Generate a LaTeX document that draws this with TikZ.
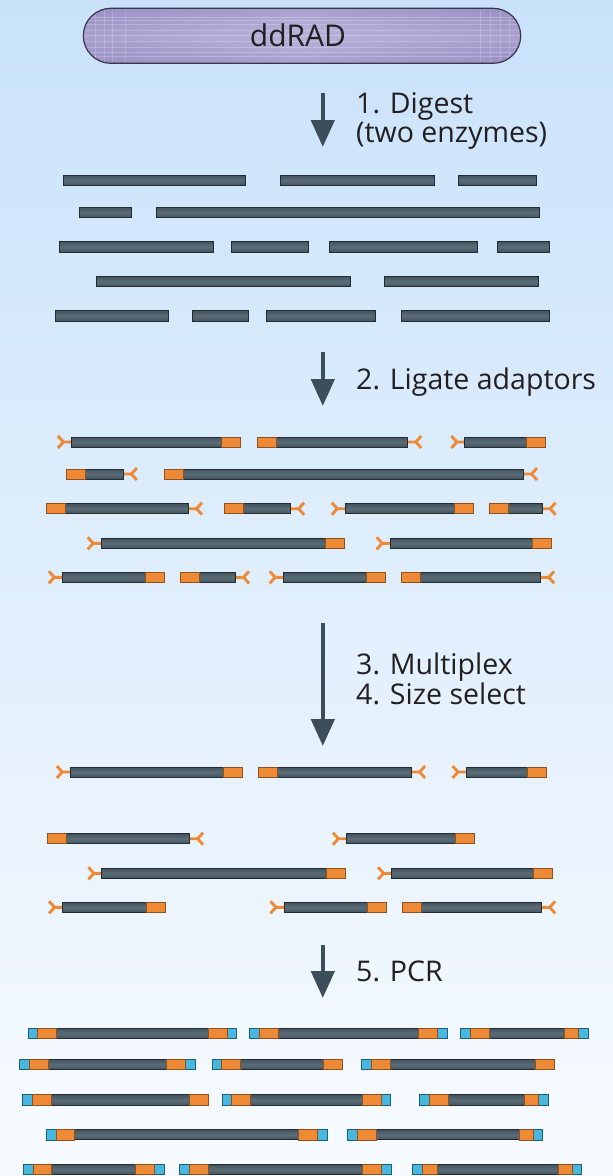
\documentclass[tikz,border=0pt]{standalone}
\usepackage{fontspec}
\setmainfont{Open Sans}
\usetikzlibrary{arrows.meta}
\definecolor{bgtop}{HTML}{C9E2FA}
\definecolor{bgbot}{HTML}{F7FBFF}
\definecolor{dnadark}{HTML}{44545E}
\definecolor{dnalight}{HTML}{5A6D78}
\definecolor{dnaedge}{HTML}{252C31}
\definecolor{adorange}{HTML}{EE8A35}
\definecolor{adedge}{HTML}{8E521E}
\definecolor{pcrblue}{HTML}{47B7E0}
\definecolor{pcredge}{HTML}{1E5F7A}
\definecolor{arrowcol}{HTML}{3C4E59}
\definecolor{txt}{HTML}{231F20}
\definecolor{pilltop}{HTML}{9A90C4}
\definecolor{pillmid}{HTML}{BBB2DB}
\definecolor{pilledge}{HTML}{3A3848}
\tikzset{
  dnabar/.style={draw=dnaedge, line width=1pt, top color=dnadark, bottom color=dnadark, middle color=dnalight},
  orbox/.style={draw=adedge, line width=0.9pt, fill=adorange},
  bluebox/.style={draw=pcredge, line width=0.9pt, fill=pcrblue},
  adapt/.style={draw=adorange, line width=2.9pt, line cap=butt, line join=miter},
  bigarrow/.style={draw=arrowcol, line width=4.6pt, -{Triangle[width=23pt,length=27pt]}},
  steptext/.style={font=\fontsize{28.5}{34}\selectfont, text=txt, inner sep=0pt, anchor=base west}
}
\newcommand\dnafrag[3]{\shade[dnabar] (#1,#3-5) rectangle (#2,#3+5);}
\newcommand\dfr[3]{\shade[dnabar] (#1,#3-5.25) rectangle (#2,#3+5.25);}
\newcommand\orL[2]{\filldraw[orbox] (#1,#2-5) rectangle (#1+19,#2+5);}
\newcommand\orR[2]{\filldraw[orbox] (#1-19,#2-5) rectangle (#1,#2+5);}
\newcommand\adL[2]{\draw[adapt] (#1,#2) -- (#1-8,#2) -- (#1-13.5,#2-6) (#1-8,#2) -- (#1-13.5,#2+6);}
\newcommand\adR[2]{\draw[adapt] (#1,#2) -- (#1+8,#2) -- (#1+13.5,#2-6) (#1+8,#2) -- (#1+13.5,#2+6);}
% adaptor left, orange right
\newcommand\fragA[3]{\adL{#1}{#3}\dnafrag{#1}{#2}{#3}\orR{#2}{#3}}
% orange left, adaptor right
\newcommand\fragB[3]{\adR{#2}{#3}\dnafrag{#1}{#2}{#3}\orL{#1}{#3}}
% PCR product: x1 x2 y rightblue owL owR
\newcommand\pcrfrag[6]{%
  \shade[dnabar] (#1,#3-5.25) rectangle (#2,#3+5.25);
  \filldraw[bluebox] (#1,#3-5.25) rectangle (#1+9.7,#3+5.25);
  \filldraw[orbox] (#1+9.7,#3-5.25) rectangle (#1+9.7+#5,#3+5.25);
  \ifnum#4=1
    \filldraw[bluebox] (#2-9.7,#3-5.25) rectangle (#2,#3+5.25);
    \filldraw[orbox] (#2-9.7-#6,#3-5.25) rectangle (#2-9.7,#3+5.25);
  \else
    \filldraw[orbox] (#2-#6,#3-5.25) rectangle (#2,#3+5.25);
  \fi}
\begin{document}
\begin{tikzpicture}[x=1pt,y=-1pt]
\useasboundingbox (0,0) rectangle (613,1176);
\shade[top color=bgtop, bottom color=bgbot] (0,0) rectangle (613,1176);

% ---- banner ----
\begin{scope}
  \clip[rounded corners=27.5pt] (83.3,8.3) rectangle (520.7,63.3);
  \shade[top color=pilltop, bottom color=pilltop, middle color=pillmid] (83.3,8.3) rectangle (520.7,63.3);
  \shade[left color=pilltop, right color=pilltop, middle color=pillmid, opacity=0.5] (83.3,8.3) rectangle (520.7,63.3);
  \foreach \yy in {17,20,24,30,35,41,47,52,56}
    \draw[white, opacity=0.22, line width=0.7pt] (83,\yy) -- (521,\yy);
  \foreach \xx in {95,104,112,125,480,490,500,509}
    \draw[white, opacity=0.18, line width=0.8pt] (\xx,10) -- (\xx,62);
\end{scope}
\draw[pilledge, line width=1.2pt, rounded corners=27.5pt] (83.3,8.3) rectangle (520.7,63.3);
\node[font=\fontsize{30}{34}\selectfont, text=txt, inner sep=0pt, anchor=base] (ddrad) at (298,46) {ddRAD};

% ---- step arrows and labels ----
\coordinate (a1s) at (322.8,93);  \coordinate (a1e) at (322.8,147);
\coordinate (a2s) at (322.8,352); \coordinate (a2e) at (322.8,406);
\coordinate (a3s) at (322.8,623); \coordinate (a3e) at (322.8,746);
\coordinate (a4s) at (322.8,945); \coordinate (a4e) at (322.8,998);
\draw[bigarrow] (a1s) -- (a1e);
\draw[bigarrow] (a2s) -- (a2e);
\draw[bigarrow] (a3s) -- (a3e);
\draw[bigarrow] (a4s) -- (a4e);
\node[steptext] (s1) at (356,113) {1. Digest};
\node[steptext] (s1b) at (356,142) {(two enzymes)};
\node[steptext] (s2) at (356,389) {2. Ligate adaptors};
\node[steptext] (s3) at (356,674) {3. Multiplex};
\node[steptext] (s4) at (356,704) {4. Size select};
\node[steptext] (s5) at (356,981) {5. PCR};

% ---- section 1: digested fragments ----
\dfr{63.6}{245.4}{180.3} \dfr{280.9}{434.6}{180.3} \dfr{458.9}{536.3}{180.3}
\dfr{79.9}{131.9}{212.5} \dfr{156.6}{539.3}{212.5}
\dfr{59.3}{213.3}{246.8} \dfr{231.6}{308.9}{246.8} \dfr{329.5}{477.5}{246.8} \dfr{497.4}{549.5}{246.8}
\dfr{96.4}{350.8}{281.5} \dfr{384.9}{538.3}{281.5}
\dfr{55.9}{168.7}{315.8} \dfr{192.4}{248.4}{315.8} \dfr{266.7}{375.5}{315.8} \dfr{401.8}{549.5}{315.8}

% ---- section 2: ligated adaptors ----
\fragA{71.4}{240.8}{442} \fragB{257.3}{407.8}{442} \fragA{464.9}{545.3}{442}
\fragB{66.5}{123.3}{474} \fragB{164.3}{523.5}{474}
\fragB{46.5}{188.5}{508.7} \fragB{224.3}{290.6}{508.7} \fragA{345.3}{473.7}{508.7} \fragB{489.5}{542.1}{508.7}
\fragA{101.2}{344.6}{543.3} \fragA{390.2}{551.6}{543.3}
\fragA{62.3}{164.7}{577.3} \fragB{180.5}{235.5}{577.3} \fragA{283.2}{385.7}{577.3} \fragB{401.4}{540.7}{577.3}

% ---- section 3: multiplexed, size selected ----
\fragA{70.3}{242.2}{772} \fragB{258.3}{411.6}{772} \fragA{466}{546.3}{772}
\fragB{47.2}{189.6}{838.7} \fragA{346.4}{474.8}{838.7}
\fragA{101.9}{345.3}{873.3} \fragA{391.6}{552.3}{873.3}
\fragA{62.6}{165.4}{907.3} \fragA{284}{386.4}{907.3} \fragB{402.5}{541.7}{907.3}

% ---- section 5: PCR products ----
\pcrfrag{28.1}{236.9}{1033.5}{1}{19}{19} \pcrfrag{249.3}{447.2}{1033.5}{1}{19}{19} \pcrfrag{460.3}{588.6}{1033.5}{1}{19}{14}
\pcrfrag{19.4}{195.5}{1064.5}{1}{19}{19} \pcrfrag{212}{342.6}{1064.5}{0}{19}{19} \pcrfrag{361.8}{554.8}{1064.5}{0}{19}{19}
\pcrfrag{22.4}{208.3}{1100}{0}{19}{19} \pcrfrag{222.2}{390.7}{1100}{1}{19}{19} \pcrfrag{419.7}{548.4}{1100}{1}{19}{14}
\pcrfrag{46.9}{327.5}{1134.7}{1}{18}{19} \pcrfrag{347.5}{542.7}{1134.7}{1}{19}{14}
\pcrfrag{23.5}{164.2}{1169.5}{1}{18.5}{19} \pcrfrag{179.3}{391.5}{1169.5}{1}{19}{19} \pcrfrag{412.9}{581.9}{1169.5}{1}{15}{14}
\end{tikzpicture}
\end{document}
